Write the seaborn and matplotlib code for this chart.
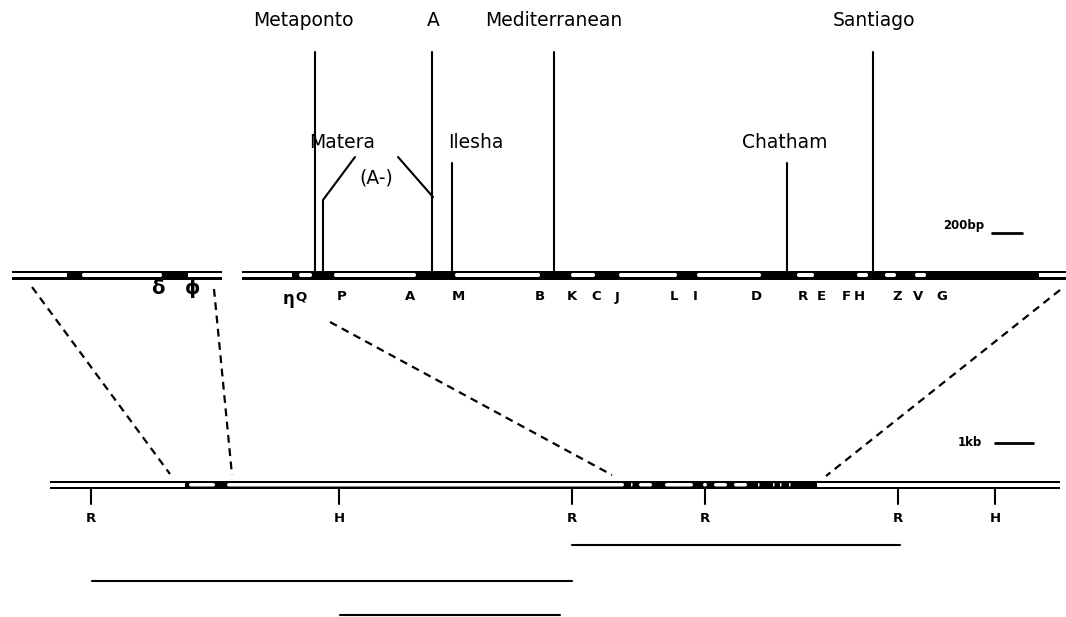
import numpy as np
import matplotlib
matplotlib.use("Agg")
import matplotlib.pyplot as plt
from matplotlib.patches import FancyBboxPatch
import seaborn as sns

# gene map coordinates (map units along each track)
left_track_span = (12, 222)
left_exons = [(67, 81), (163, 188)]
left_labels = ["δ", "ϕ"]
left_label_x = [158, 193]

main_track_span = (242, 1066)
main_exons = [(292, 298), (313, 333), (417, 454), (541, 570), (596, 618),
              (678, 696), (762, 796), (815, 856), (869, 884), (897, 914),
              (927, 1039)]
main_labels = ["η", "Q", "P", "A", "M", "B", "K", "C", "J", "L", "I", "D",
               "R", "E", "F", "H", "Z", "V", "G"]
main_label_x = [288, 301, 342, 410, 458, 540, 572, 596, 617, 674, 695, 756,
                803, 821, 846, 859, 897, 918, 942]

lower_track_span = (50, 1060)
lower_exons = [(185, 188), (216, 226), (625, 630), (633, 638), (653, 664),
               (694, 702), (708, 713), (728, 733), (748, 757), (759, 772),
               (774, 779), (782, 788), (791, 817)]
site_names = ["R", "H", "R", "R", "R", "H"]
site_x = [91, 339, 572, 705, 898, 995]

# mutations on the main track
mut_long = ["Metaponto", "A", "Mediterranean", "Santiago"]
mut_long_x = [315, 432, 554, 873]
mut_long_label_x = [303, 433, 554, 874]
mut_short = ["Ilesha", "Chatham"]
mut_short_x = [452, 787]
mut_short_label_x = [476, 785]

# clone fragments below the map
fragments = [(572, 900), (92, 572), (340, 560)]

sns.set_theme(style="white")
plt.rcParams["font.family"] = ["DejaVu Sans"]

fig = plt.figure(figsize=(10.66, 6.17), dpi=100)
ax = fig.add_axes([0, 0, 1, 1])
ax.set_xlim(0, 1066)
ax.set_ylim(617, 0)
ax.axis("off")


def draw_track(span, exons, y_top, height, inner):
    x0, x1 = span
    ax.add_patch(plt.Rectangle((x0, y_top), x1 - x0, height, color="black", lw=0))
    pad = (height - inner) / 2
    edges = [x0] + [v for e in exons for v in e] + [x1]
    for i in range(0, len(edges), 2):
        a, b = edges[i], edges[i + 1]
        if i == 0 or i == len(edges) - 2:
            ax.add_patch(plt.Rectangle((a, y_top + pad), b - a, inner,
                                       color="white", lw=0))
            if i != 0:
                ax.add_patch(FancyBboxPatch((a + 1, y_top + pad), 4, inner,
                                            boxstyle="round,pad=0,rounding_size=1.8",
                                            color="white", lw=0))
        else:
            w = max(b - a - 2, 1.5)
            ax.add_patch(FancyBboxPatch((a + 1, y_top + pad), w, inner,
                                        boxstyle="round,pad=0,rounding_size=%.2f" % min(1.8, w / 2),
                                        color="white", lw=0))


draw_track(left_track_span, left_exons, 270.5, 9, 4)
draw_track(main_track_span, main_exons, 270.5, 9, 4)
draw_track(lower_track_span, lower_exons, 480.5, 8.5, 3.5)

lab_kw = dict(ha="center", va="center", color="black")
for s, x in zip(left_labels, left_label_x):
    ax.text(x, 289, s, fontsize=14, fontweight="bold", **lab_kw)
for s, x in zip(main_labels, main_label_x):
    if s == "η":
        ax.text(x, 299, s, fontsize=12, fontweight="bold", **lab_kw)
    else:
        ax.text(x, 297, s, fontsize=9.5, fontweight="bold", **lab_kw)

# mutation lines
lw = 1.5
for name, x, lx in zip(mut_long, mut_long_x, mut_long_label_x):
    ax.plot([x, x], [52, 271], color="black", lw=lw)
    ax.text(lx, 20, name, fontsize=13.5, **lab_kw)
for name, x, lx in zip(mut_short, mut_short_x, mut_short_label_x):
    ax.plot([x, x], [163, 271], color="black", lw=lw)
    ax.text(lx, 142, name, fontsize=13.5, **lab_kw)

# Matera (A-) double mutation
ax.text(342, 142, "Matera", fontsize=13.5, **lab_kw)
ax.text(376, 178, "(A-)", fontsize=13.5, **lab_kw)
ax.plot([355, 323, 323], [157, 200, 271], color="black", lw=lw)
ax.plot([398, 433], [157, 197], color="black", lw=lw)

# scale bars
ax.text(964, 226, "200bp", fontsize=8.5, fontweight="bold", **lab_kw)
ax.plot([992, 1022], [233, 233], color="black", lw=2)
ax.text(970, 442, "1kb", fontsize=8.5, fontweight="bold", **lab_kw)
ax.plot([995, 1033], [443, 443], color="black", lw=2)

# dashed expansion lines
dash_kw = dict(color="black", lw=1.6, linestyle=(0, (3.5, 2.5)))
ax.plot([32, 170], [287, 474], **dash_kw)
ax.plot([214, 232], [289, 475], **dash_kw)
ax.plot([330, 612], [322, 475], **dash_kw)
ax.plot([1060, 826], [290, 476], **dash_kw)

# restriction sites
for s, x in zip(site_names, site_x):
    ax.plot([x, x], [489, 504], color="black", lw=lw)
    ax.text(x, 519, s, fontsize=9.5, fontweight="bold", **lab_kw)

# fragments
for (a, b), y in zip(fragments, [545, 581, 615]):
    ax.plot([a, b], [y, y], color="black", lw=lw)

fig.savefig("out.png", dpi=100, facecolor="white")
